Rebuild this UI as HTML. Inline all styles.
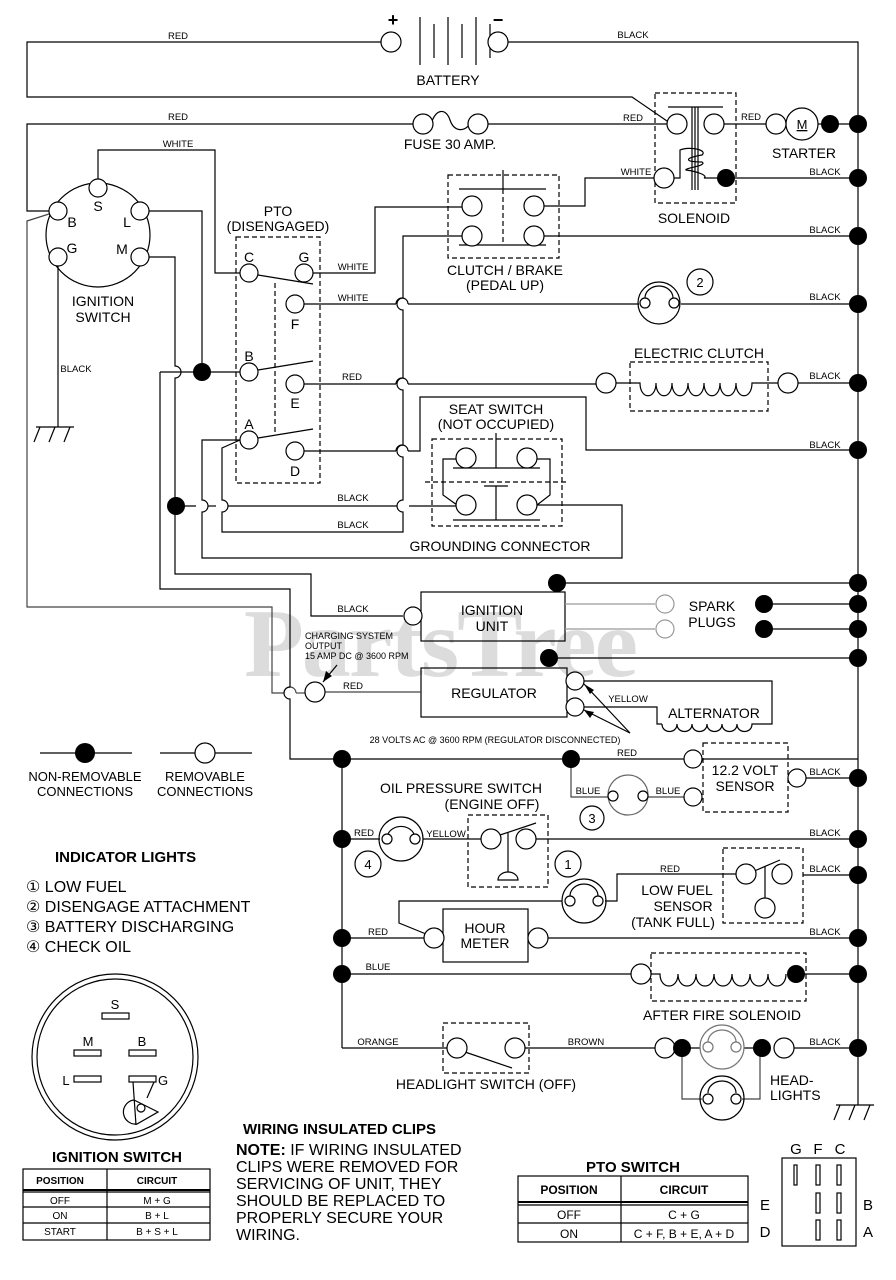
<!DOCTYPE html>
<html><head><meta charset="utf-8">
<style>
html,body{margin:0;padding:0;background:#fff;}
svg{display:block;}
text{font-family:"Liberation Sans",sans-serif;fill:#000;}
.w{font-size:9.5px;}
.l{font-size:14px;}
.b{font-weight:bold;}
</style></head><body>
<svg width="896" height="1280" viewBox="0 0 896 1280" xmlns="http://www.w3.org/2000/svg">
<!-- watermark -->
<text x="440" y="676" font-size="98" font-weight="bold" text-anchor="middle" style="fill:#dcdcdc;font-family:'Liberation Serif',serif;letter-spacing:-2px">PartsTree</text>
<g fill="none" stroke="#000" stroke-width="1.2">
<polyline points="381,42 27,42 27,97 632,97 667,121"/>
<polyline points="508,42 858,42 858,1105"/>
<polyline points="413,124 27,124 27,211 49,211"/>
<line x1="488" y1="124" x2="667" y2="124"/>
<line x1="724" y1="124" x2="766" y2="124"/>
<line x1="786" y1="124" x2="858" y2="124"/>
<line x1="420" y1="17" x2="420" y2="65"/><line x1="434" y1="24" x2="434" y2="58"/>
<line x1="448" y1="17" x2="448" y2="65"/><line x1="462" y1="24" x2="462" y2="58"/>
<line x1="476" y1="17" x2="476" y2="65"/><line x1="490" y1="24" x2="490" y2="58"/>
<path d="M431,124 C436,108 446,108 450,120 C454,132 464,132 470,124"/>
<rect x="655" y="93" width="81" height="110" stroke-dasharray="5,3"/>
<line x1="668" y1="107" x2="723" y2="107"/>
<line x1="692" y1="107" x2="692" y2="190"/><line x1="695" y1="107" x2="695" y2="190"/><line x1="698" y1="107" x2="698" y2="190"/>
<path d="M674,178 L680,178 L680,150 C690,146 708,150 702,155 C684,158 684,162 702,162 C708,166 684,168 686,170 C700,172 708,176 704,178 L718,178"/>
<polyline points="535,206 585,206 585,178 655,178"/>
<line x1="726" y1="178" x2="858" y2="178"/>
<circle cx="802" cy="124" r="16" fill="#fff"/>
<circle cx="98" cy="235" r="52"/>
<polyline points="98,180 98,150 215,150 215,273 240,273"/>
<polyline points="149,211 202,211 202,372"/>
<path d="M149,257 L175,257 L175,366 A6,6 0 0 1 175,378 L175,574 L311,574 L311,616 L403,616"/>
<line x1="58" y1="266" x2="58" y2="427"/>
<line x1="36" y1="427" x2="74" y2="427"/>
<line x1="40" y1="427" x2="34" y2="442"/><line x1="55" y1="427" x2="49" y2="442"/><line x1="70" y1="427" x2="64" y2="442"/>
<polyline points="49,214 27,221 27,607 272,607 272,693 284,693" stroke="#444"/>
<path d="M284,693 A6,6 0 0 1 296,693" stroke="#444"/>
<polyline points="296,693 305,693" stroke="#444"/>
<polyline points="160,372 240,372"/>
<path d="M160,372 L160,589 290,589 290,687 A6,6 0 0 0 290,699 L290,759 858,759"/>
<rect x="236" y="237" width="84" height="246" stroke-dasharray="5,3"/>
<line x1="275" y1="283" x2="275" y2="435" stroke-dasharray="5,3"/>
<line x1="258" y1="275" x2="313" y2="284"/>
<line x1="258" y1="370" x2="313" y2="361"/>
<line x1="258" y1="438" x2="313" y2="429"/>
<polyline points="305,273 375,273 375,207 463,207"/>
<line x1="304" y1="304" x2="396" y2="304"/><path d="M396,304 A6,6 0 0 1 408,304"/><line x1="408" y1="304" x2="639" y2="304"/>
<line x1="681" y1="304" x2="858" y2="304"/>
<line x1="304" y1="384" x2="396" y2="384"/><path d="M396,384 A6,6 0 0 1 408,384"/><line x1="408" y1="384" x2="596" y2="384"/>
<line x1="304" y1="451" x2="396" y2="451"/><path d="M396,451 A6,6 0 0 1 408,451"/>
<polyline points="408,451 420,451 420,397 586,397 586,450 858,450"/>
<path d="M463,236 L403,236 L403,298 A6,6 0 0 0 403,310 L403,378 A6,6 0 0 0 403,390 L403,445 A6,6 0 0 0 403,457 L403,500 A6,6 0 0 0 403,512 L403,532 222,532 222,512 A6,6 0 0 0 222,500 L222,448 240,440"/>
<path d="M240,440 L202,440 L202,500 A6,6 0 0 1 202,512 L202,558 622,558 622,505 537,505"/>
<line x1="176" y1="506" x2="196" y2="506"/><line x1="208" y1="506" x2="216" y2="506"/><line x1="228" y1="506" x2="397" y2="506"/><line x1="409" y1="506" x2="456" y2="506"/>
<rect x="448" y="175" width="111" height="83" stroke-dasharray="5,3"/>
<line x1="459" y1="189" x2="546" y2="189"/>
<line x1="503" y1="170" x2="503" y2="189"/><line x1="503" y1="189" x2="503" y2="245" stroke-dasharray="5,3"/>
<line x1="459" y1="245" x2="546" y2="245"/>
<line x1="544" y1="236" x2="858" y2="236"/>
<circle cx="659" cy="303" r="21"/>
<path d="M645,298 A14,12 0 0 1 673,298"/>
<circle cx="700" cy="282" r="13"/>
<rect x="630" y="362" width="138" height="49" stroke-dasharray="5,3"/>
<path d="M616,383 L640,383 C640,400 656,400 656,383 C656,400 672,400 672,383 C672,400 688,400 688,383 C688,400 704,400 704,383 C704,400 720,400 720,383 C720,400 736,400 736,383 C736,400 752,400 752,383 L778,383"/>
<line x1="798" y1="383" x2="858" y2="383"/>
<rect x="432" y="439" width="130" height="87" stroke-dasharray="5,3"/>
<line x1="453" y1="468" x2="540" y2="468"/><line x1="496" y1="433" x2="496" y2="468"/>
<line x1="425" y1="482" x2="568" y2="482" stroke-dasharray="5,3"/>
<line x1="453" y1="520" x2="540" y2="520"/><line x1="496" y1="486" x2="496" y2="520"/>
<line x1="484" y1="486" x2="508" y2="486"/>
<polyline points="457,459 443,459 443,495 457,505"/>
<polyline points="537,459 550,459 550,495 537,505"/>
<line x1="557" y1="583" x2="858" y2="583"/>
<rect x="421" y="592" width="144" height="49"/>
<line x1="565" y1="604" x2="655" y2="604" stroke="#999"/>
<line x1="565" y1="629" x2="655" y2="629" stroke="#999"/>
<line x1="764" y1="604" x2="858" y2="604"/><line x1="764" y1="629" x2="858" y2="629"/>
<line x1="549" y1="658" x2="858" y2="658"/>
<rect x="421" y="668" width="146" height="49"/>
<line x1="325" y1="692" x2="421" y2="692" stroke="#444"/>
<polyline points="584,681 772,681 772,724 757,724"/>
<polyline points="584,707 657,707 657,724 662,724"/>
<path d="M662,724 C662,734 677,734 677,724 C677,734 692,734 692,724 C692,734 707,734 707,724 C707,734 722,734 722,724 C722,734 737,734 737,724 C737,734 752,734 752,724 L757,724"/>
<line x1="337" y1="665" x2="323" y2="682"/>
<line x1="630" y1="733" x2="584" y2="684"/><line x1="630" y1="733" x2="584" y2="710"/>
<line x1="342" y1="759" x2="342" y2="1048"/>
<polyline points="571,759 571,797 608,797" stroke="#444"/>
<line x1="648" y1="797" x2="684" y2="797" stroke="#444"/>
<rect x="703" y="743" width="85" height="69" stroke-dasharray="5,3"/>
<line x1="806" y1="778" x2="858" y2="778"/>
<circle cx="628" cy="795" r="20" stroke="#666"/>
<circle cx="592" cy="818" r="12"/>
<line x1="342" y1="839" x2="380" y2="839"/>
<circle cx="401" cy="839" r="22"/>
<path d="M388,834 A14,12 0 0 1 414,834"/>
<line x1="423" y1="839" x2="482" y2="839"/>
<rect x="468" y="815" width="80" height="72" stroke-dasharray="5,3"/>
<line x1="500" y1="835" x2="536" y2="823"/>
<line x1="508" y1="832" x2="508" y2="872"/>
<path d="M498,880 A10,8 0 0 1 518,880 Z"/>
<line x1="536" y1="839" x2="858" y2="839"/>
<circle cx="368" cy="864" r="13"/>
<circle cx="568" cy="864" r="13"/>
<circle cx="584" cy="901" r="22"/>
<path d="M570,896 A14,12 0 0 1 598,896"/>
<polyline points="605,901 617,901 617,874 737,874"/>
<polyline points="562,901 399,901 399,923 426,934"/>
<rect x="723" y="848" width="80" height="75" stroke-dasharray="5,3"/>
<line x1="752" y1="872" x2="780" y2="860"/><line x1="765" y1="866" x2="765" y2="899"/>
<line x1="803" y1="875" x2="858" y2="875"/>
<line x1="342" y1="938" x2="424" y2="938"/>
<rect x="443" y="909" width="85" height="53"/>
<line x1="548" y1="938" x2="858" y2="938"/>
<line x1="342" y1="974" x2="631" y2="974"/>
<rect x="651" y="953" width="155" height="48" stroke-dasharray="5,3"/>
<path d="M651,974 L660,974 C660,990 678,990 678,974 C678,990 696,990 696,974 C696,990 714,990 714,974 C714,990 732,990 732,974 C732,990 750,990 750,974 C750,990 768,990 768,974 C768,990 786,990 786,974"/>
<line x1="796" y1="974" x2="858" y2="974"/>
<line x1="342" y1="1048" x2="447" y2="1048"/>
<rect x="443" y="1023" width="86" height="50" stroke-dasharray="5,3"/>
<line x1="465" y1="1052" x2="512" y2="1068"/>
<line x1="525" y1="1048" x2="655" y2="1048"/>
<line x1="684" y1="1048" x2="765" y2="1048"/>
<circle cx="722" cy="1047" r="22" stroke="#777" fill="#fff"/>
<path d="M708,1042 A14,12 0 0 1 736,1042" stroke="#777"/>
<line x1="794" y1="1048" x2="858" y2="1048"/>
<polyline points="682,1048 682,1099 702,1099" stroke="#444"/>
<polyline points="742,1099 760,1099 760,1048" stroke="#444"/>
<circle cx="722" cy="1098" r="22"/>
<path d="M708,1093 A14,12 0 0 1 736,1093"/>
<line x1="836" y1="1105" x2="874" y2="1105"/>
<line x1="840" y1="1105" x2="834" y2="1120"/><line x1="855" y1="1105" x2="849" y2="1120"/><line x1="870" y1="1105" x2="864" y2="1120"/>
<line x1="40" y1="753" x2="132" y2="753"/><line x1="160" y1="753" x2="252" y2="753"/>
<circle cx="115" cy="1057" r="83"/><circle cx="115" cy="1057" r="78"/>
<rect x="102" y="1013" width="27" height="6"/><rect x="74" y="1050" width="27" height="6"/>
<rect x="129" y="1050" width="27" height="6"/><rect x="74" y="1076" width="27" height="6"/>
<rect x="129" y="1076" width="27" height="6"/>
<line x1="133" y1="1082" x2="136" y2="1125"/>
<line x1="154" y1="1082" x2="147" y2="1098"/>
<path d="M134,1100 L158,1112 L137,1124 A12,12 0 0 1 134,1100"/>
<circle cx="141" cy="1108" r="4"/>
<rect x="23" y="1169" width="187" height="71"/>
<line x1="107" y1="1169" x2="107" y2="1240"/>
<line x1="23" y1="1190" x2="210" y2="1190" stroke-width="2"/>
<line x1="23" y1="1192" x2="210" y2="1192"/>
<line x1="23" y1="1207" x2="210" y2="1207"/><line x1="23" y1="1223" x2="210" y2="1223"/>
<rect x="518" y="1176" width="230" height="66"/>
<line x1="621" y1="1176" x2="621" y2="1242"/>
<line x1="518" y1="1202" x2="748" y2="1202" stroke-width="2"/>
<line x1="518" y1="1205" x2="748" y2="1205"/>
<line x1="518" y1="1223" x2="748" y2="1223"/>
<rect x="782" y="1158" width="74" height="88"/>
<rect x="794" y="1165" width="3" height="20"/><rect x="816" y="1165" width="4" height="20"/><rect x="837" y="1165" width="4" height="20"/>
<rect x="816" y="1193" width="4" height="20"/><rect x="837" y="1193" width="4" height="20"/>
<rect x="816" y="1220" width="4" height="20"/><rect x="837" y="1220" width="4" height="20"/>
</g>
<g fill="#fff" stroke="#000" stroke-width="1.2">
<circle cx="391" cy="42" r="10"/><circle cx="498" cy="42" r="10"/>
<circle cx="423" cy="124" r="10"/><circle cx="478" cy="124" r="10"/>
<circle cx="677" cy="124" r="10"/><circle cx="714" cy="124" r="10"/><circle cx="664" cy="178" r="10"/>
<circle cx="776" cy="124" r="10"/>
<circle cx="98" cy="188" r="9"/><circle cx="58" cy="211" r="9"/><circle cx="140" cy="211" r="9"/><circle cx="58" cy="257" r="9"/><circle cx="140" cy="257" r="9"/>
<circle cx="249" cy="273" r="9"/><circle cx="304" cy="273" r="9"/><circle cx="295" cy="304" r="9"/>
<circle cx="249" cy="372" r="9"/><circle cx="295" cy="384" r="9"/><circle cx="249" cy="440" r="9"/><circle cx="295" cy="451" r="9"/>
<circle cx="472" cy="206" r="10"/><circle cx="534" cy="206" r="10"/><circle cx="472" cy="236" r="10"/><circle cx="534" cy="236" r="10"/>
<circle cx="645" cy="303" r="5"/><circle cx="674" cy="303" r="5"/>
<circle cx="606" cy="383" r="10"/><circle cx="788" cy="383" r="10"/>
<circle cx="466" cy="458" r="10"/><circle cx="527" cy="458" r="10"/><circle cx="466" cy="505" r="10"/><circle cx="527" cy="505" r="10"/>
<circle cx="413" cy="616" r="9"/>
<circle cx="665" cy="604" r="9" stroke="#999"/><circle cx="665" cy="629" r="9" stroke="#999"/>
<circle cx="315" cy="692" r="10"/>
<circle cx="575" cy="681" r="9"/><circle cx="575" cy="707" r="9"/>
<circle cx="693" cy="759" r="9"/><circle cx="797" cy="778" r="9"/><circle cx="693" cy="797" r="9"/>
<circle cx="613" cy="796" r="5"/><circle cx="643" cy="796" r="5"/>
<circle cx="387" cy="839" r="5"/><circle cx="415" cy="839" r="5"/>
<circle cx="491" cy="839" r="10"/><circle cx="526" cy="839" r="10"/>
<circle cx="570" cy="901" r="5"/><circle cx="598" cy="901" r="5"/>
<circle cx="746" cy="874" r="10"/><circle cx="782" cy="874" r="10"/><circle cx="765" cy="908" r="10"/>
<circle cx="434" cy="938" r="10"/><circle cx="538" cy="938" r="10"/>
<circle cx="641" cy="974" r="10"/>
<circle cx="457" cy="1048" r="10"/><circle cx="515" cy="1048" r="10"/>
<circle cx="665" cy="1048" r="10"/><circle cx="784" cy="1048" r="10"/>
<circle cx="708" cy="1047" r="5" stroke="#777"/><circle cx="736" cy="1047" r="5" stroke="#777"/>
<circle cx="708" cy="1099" r="5"/><circle cx="736" cy="1099" r="5"/>
<circle cx="205" cy="753" r="10"/>
</g>
<g fill="#000">
<circle cx="830" cy="124" r="9"/><circle cx="726" cy="178" r="9"/>
<circle cx="202" cy="372" r="9"/><circle cx="176" cy="506" r="9"/>
<circle cx="557" cy="583" r="9"/><circle cx="764" cy="604" r="9"/><circle cx="764" cy="629" r="9"/><circle cx="549" cy="658" r="9"/>
<circle cx="342" cy="759" r="9"/><circle cx="571" cy="759" r="9"/>
<circle cx="342" cy="839" r="9"/><circle cx="342" cy="938" r="9"/><circle cx="342" cy="974" r="9"/>
<circle cx="796" cy="974" r="9"/><circle cx="682" cy="1048" r="9"/><circle cx="762" cy="1048" r="9"/>
<circle cx="85" cy="753" r="10"/>
<circle cx="858" cy="124" r="9"/><circle cx="858" cy="178" r="9"/><circle cx="858" cy="236" r="9"/><circle cx="858" cy="304" r="9"/>
<circle cx="858" cy="383" r="9"/><circle cx="858" cy="450" r="9"/><circle cx="858" cy="583" r="9"/><circle cx="858" cy="604" r="9"/>
<circle cx="858" cy="629" r="9"/><circle cx="858" cy="658" r="9"/><circle cx="858" cy="778" r="9"/><circle cx="858" cy="839" r="9"/>
<circle cx="858" cy="875" r="9"/><circle cx="858" cy="938" r="9"/><circle cx="858" cy="974" r="9"/><circle cx="858" cy="1048" r="9"/>
</g>
<polygon points="323,682 326,671 332,676" fill="#000"/>
<polygon points="584,684 590,694 594,690" fill="#000"/>
<polygon points="584,710 590,718 594,712" fill="#000"/>
<text x="393" y="26" font-size="18" font-weight="bold" text-anchor="middle">+</text>
<text x="498" y="26" font-size="18" font-weight="bold" text-anchor="middle">−</text>
<text class="w" x="178" y="39" text-anchor="middle">RED</text>
<text class="w" x="633" y="38" text-anchor="middle">BLACK</text>
<text class="l" x="448" y="85" text-anchor="middle">BATTERY</text>
<text class="w" x="178" y="120" text-anchor="middle">RED</text>
<text class="w" x="633" y="121" text-anchor="middle">RED</text>
<text class="w" x="751" y="120" text-anchor="middle">RED</text>
<text x="802" y="129" font-size="13" text-anchor="middle" text-decoration="underline">M</text>
<text class="l" x="804" y="158" text-anchor="middle">STARTER</text>
<text class="l" x="450" y="149" text-anchor="middle">FUSE 30 AMP.</text>
<text class="w" x="178" y="147" text-anchor="middle">WHITE</text>
<text class="w" x="636" y="175" text-anchor="middle">WHITE</text>
<text class="l" x="694" y="223" text-anchor="middle">SOLENOID</text>
<text class="l" x="505" y="275" text-anchor="middle">CLUTCH / BRAKE</text>
<text class="l" x="505" y="290" text-anchor="middle">(PEDAL UP)</text>
<text class="l" x="278" y="216" text-anchor="middle">PTO</text>
<text class="l" x="278" y="231" text-anchor="middle">(DISENGAGED)</text>
<text class="l" x="98" y="211" text-anchor="middle">S</text>
<text class="l" x="72" y="227" text-anchor="middle">B</text>
<text class="l" x="127" y="227" text-anchor="middle">L</text>
<text class="l" x="72" y="253" text-anchor="middle">G</text>
<text class="l" x="122" y="254" text-anchor="middle">M</text>
<text class="l" x="103" y="306" text-anchor="middle">IGNITION</text>
<text class="l" x="103" y="322" text-anchor="middle">SWITCH</text>
<text class="w" x="76" y="372" text-anchor="middle">BLACK</text>
<text class="l" x="249" y="262" text-anchor="middle">C</text>
<text class="l" x="304" y="262" text-anchor="middle">G</text>
<text class="l" x="295" y="329" text-anchor="middle">F</text>
<text class="l" x="249" y="361" text-anchor="middle">B</text>
<text class="l" x="295" y="408" text-anchor="middle">E</text>
<text class="l" x="249" y="429" text-anchor="middle">A</text>
<text class="l" x="295" y="476" text-anchor="middle">D</text>
<text class="w" x="353" y="270" text-anchor="middle">WHITE</text>
<text class="w" x="353" y="301" text-anchor="middle">WHITE</text>
<text class="w" x="352" y="380" text-anchor="middle">RED</text>
<text class="w" x="353" y="501" text-anchor="middle">BLACK</text>
<text class="w" x="353" y="528" text-anchor="middle">BLACK</text>
<text class="l" x="699" y="358" text-anchor="middle">ELECTRIC CLUTCH</text>
<text class="l" x="496" y="414" text-anchor="middle">SEAT SWITCH</text>
<text class="l" x="496" y="429" text-anchor="middle">(NOT OCCUPIED)</text>
<text class="l" x="500" y="551" text-anchor="middle">GROUNDING CONNECTOR</text>
<text x="700" y="287" font-size="13" text-anchor="middle">2</text>
<g class="w" text-anchor="middle">
<text x="825" y="233">BLACK</text><text x="825" y="175">BLACK</text><text x="825" y="300">BLACK</text>
<text x="825" y="379">BLACK</text><text x="825" y="448">BLACK</text><text x="825" y="775">BLACK</text>
<text x="825" y="836">BLACK</text><text x="825" y="872">BLACK</text><text x="825" y="935">BLACK</text>
<text x="825" y="1045">BLACK</text>
</g>
<text class="w" x="353" y="612" text-anchor="middle">BLACK</text>
<text class="l" x="492" y="615" text-anchor="middle">IGNITION</text>
<text class="l" x="492" y="631" text-anchor="middle">UNIT</text>
<text class="l" x="712" y="611" text-anchor="middle">SPARK</text>
<text class="l" x="712" y="627" text-anchor="middle">PLUGS</text>
<text x="305" y="639" font-size="9">CHARGING SYSTEM</text>
<text x="305" y="649" font-size="9">OUTPUT</text>
<text x="305" y="659" font-size="9">15 AMP DC @ 3600 RPM</text>
<text class="w" x="353" y="689" text-anchor="middle">RED</text>
<text class="l" x="494" y="698" text-anchor="middle">REGULATOR</text>
<text class="w" x="628" y="702" text-anchor="middle">YELLOW</text>
<text class="l" x="714" y="718" text-anchor="middle">ALTERNATOR</text>
<text x="495" y="743" font-size="9" text-anchor="middle">28 VOLTS AC @ 3600 RPM (REGULATOR DISCONNECTED)</text>
<text class="w" x="627" y="756" text-anchor="middle">RED</text>
<text class="l" x="745" y="775" text-anchor="middle">12.2 VOLT</text>
<text class="l" x="745" y="791" text-anchor="middle">SENSOR</text>
<text class="w" x="588" y="794" text-anchor="middle">BLUE</text>
<text class="w" x="668" y="794" text-anchor="middle">BLUE</text>
<text x="592" y="823" font-size="13" text-anchor="middle">3</text>
<text class="l" x="461" y="793" text-anchor="middle">OIL PRESSURE SWITCH</text>
<text class="l" x="492" y="809" text-anchor="middle">(ENGINE OFF)</text>
<text class="w" x="364" y="836" text-anchor="middle">RED</text>
<text class="w" x="446" y="837" text-anchor="middle">YELLOW</text>
<text x="368" y="869" font-size="13" text-anchor="middle">4</text>
<text x="568" y="869" font-size="13" text-anchor="middle">1</text>
<text class="w" x="670" y="872" text-anchor="middle">RED</text>
<text class="l" x="677" y="895" text-anchor="middle">LOW FUEL</text>
<text class="l" x="683" y="911" text-anchor="middle">SENSOR</text>
<text class="l" x="673" y="927" text-anchor="middle">(TANK FULL)</text>
<text class="w" x="378" y="935" text-anchor="middle">RED</text>
<text class="l" x="485" y="933" text-anchor="middle">HOUR</text>
<text class="l" x="485" y="948" text-anchor="middle">METER</text>
<text class="w" x="378" y="970" text-anchor="middle">BLUE</text>
<text class="l" x="722" y="1020" text-anchor="middle">AFTER FIRE SOLENOID</text>
<text class="w" x="378" y="1045" text-anchor="middle">ORANGE</text>
<text class="w" x="586" y="1045" text-anchor="middle">BROWN</text>
<text class="l" x="486" y="1089" text-anchor="middle">HEADLIGHT SWITCH (OFF)</text>
<text class="l" x="770" y="1085">HEAD-</text>
<text class="l" x="770" y="1100">LIGHTS</text>
<text x="85" y="781" font-size="13" text-anchor="middle">NON-REMOVABLE</text>
<text x="85" y="796" font-size="13" text-anchor="middle">CONNECTIONS</text>
<text x="205" y="781" font-size="13" text-anchor="middle">REMOVABLE</text>
<text x="205" y="796" font-size="13" text-anchor="middle">CONNECTIONS</text>
<text x="55" y="862" font-size="15" font-weight="bold">INDICATOR LIGHTS</text>
<g font-size="16">
<text x="26" y="892">① LOW FUEL</text>
<text x="26" y="912">② DISENGAGE ATTACHMENT</text>
<text x="26" y="932">③ BATTERY DISCHARGING</text>
<text x="26" y="952">④ CHECK OIL</text>
</g>
<text x="115" y="1009" font-size="13" text-anchor="middle">S</text>
<text x="88" y="1046" font-size="13" text-anchor="middle">M</text>
<text x="142" y="1046" font-size="13" text-anchor="middle">B</text>
<text x="66" y="1085" font-size="13" text-anchor="middle">L</text>
<text x="163" y="1085" font-size="13" text-anchor="middle">G</text>
<text x="117" y="1162" font-size="15" font-weight="bold" text-anchor="middle">IGNITION SWITCH</text>
<g font-size="10" text-anchor="middle">
<text x="60" y="1184" font-weight="bold">POSITION</text><text x="157" y="1184" font-weight="bold">CIRCUIT</text>
<text x="60" y="1204">OFF</text><text x="157" y="1204">M + G</text>
<text x="60" y="1219">ON</text><text x="157" y="1219">B + L</text>
<text x="60" y="1235">START</text><text x="157" y="1235">B + S + L</text>
</g>
<text x="243" y="1134" font-size="15" font-weight="bold">WIRING INSULATED CLIPS</text>
<g font-size="16">
<text x="236" y="1155"><tspan font-weight="bold">NOTE:</tspan> IF WIRING INSULATED</text>
<text x="236" y="1172">CLIPS WERE REMOVED FOR</text>
<text x="236" y="1189">SERVICING OF UNIT, THEY</text>
<text x="236" y="1206">SHOULD BE REPLACED TO</text>
<text x="236" y="1223">PROPERLY SECURE YOUR</text>
<text x="236" y="1240">WIRING.</text>
</g>
<text x="633" y="1172" font-size="15" font-weight="bold" text-anchor="middle">PTO SWITCH</text>
<g font-size="12" text-anchor="middle">
<text x="569" y="1194" font-weight="bold">POSITION</text><text x="684" y="1194" font-weight="bold">CIRCUIT</text>
<text x="569" y="1219">OFF</text><text x="684" y="1219">C + G</text>
<text x="569" y="1238">ON</text><text x="684" y="1238">C + F, B + E, A + D</text>
</g>
<g font-size="15" text-anchor="middle">
<text x="796" y="1154">G</text><text x="818" y="1154">F</text><text x="840" y="1154">C</text>
<text x="765" y="1210">E</text><text x="765" y="1237">D</text>
<text x="868" y="1210">B</text><text x="868" y="1237">A</text>
</g>
</svg>
</body></html>
